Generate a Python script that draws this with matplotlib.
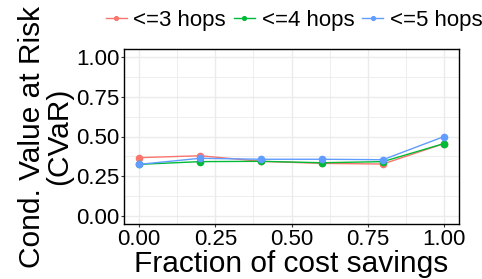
import matplotlib
matplotlib.use("Agg")
import matplotlib.pyplot as plt
from matplotlib.ticker import MultipleLocator

plt.rcParams['font.family'] = ['Liberation Sans', 'DejaVu Sans']

x = [0.0, 0.2, 0.4, 0.6, 0.8, 1.0]
hops3 = [0.367, 0.379, 0.344, 0.331, 0.327, 0.455]
hops4 = [0.325, 0.342, 0.344, 0.335, 0.342, 0.455]
hops5 = [0.325, 0.363, 0.357, 0.357, 0.354, 0.499]
labels = ['<=3 hops', '<=4 hops', '<=5 hops']
colors = ['#F8766D', '#00BA38', '#619CFF']
xticks = [0.0, 0.25, 0.5, 0.75, 1.0]
yticks = [0.0, 0.25, 0.5, 0.75, 1.0]

fig = plt.figure(figsize=(4.82, 2.79), dpi=100)
ax = fig.add_axes([124/482, 1-224/279, (459-124)/482, (224-49)/279])

for ys, lab, c in zip([hops3, hops4, hops5], labels, colors):
    ax.plot(x, ys, color=c, lw=1.0, marker='o', ms=4.5, label=lab, zorder=3)

ax.set_xlim(-0.05, 1.05)
ax.set_ylim(-0.05, 1.05)
ax.set_xticks(xticks)
ax.set_yticks(yticks)
ax.set_xticklabels(['%.2f' % v for v in xticks])
ax.set_yticklabels(['%.2f' % v for v in yticks])
ax.xaxis.set_minor_locator(MultipleLocator(0.125))
ax.yaxis.set_minor_locator(MultipleLocator(0.125))
ax.grid(True, which='major', color='#EBEBEB', lw=1.0, zorder=0)
ax.grid(True, which='minor', color='#EBEBEB', lw=0.6, zorder=0)
ax.set_axisbelow(True)
ax.tick_params(which='major', length=2.5, width=0.8, color='#333333', labelsize=16, pad=1, labelcolor='black')
ax.tick_params(which='minor', length=0)
for s in ax.spines.values():
    s.set_color('black')
    s.set_linewidth(1.0)

ax.set_xlabel('Fraction of cost savings', fontsize=21.5, labelpad=0)
ax.set_ylabel('Cond. Value at Risk\n(CVaR)', fontsize=21.5, labelpad=2, linespacing=0.95)

handles, labs = ax.get_legend_handles_labels()
fig.legend(handles, labs, loc='center', bbox_to_anchor=(0.61, 0.926), ncol=3, frameon=False,
           fontsize=16, handlelength=0.95, handletextpad=0.3, columnspacing=0.35, markerscale=0.6)

fig.savefig('out.png', dpi=100)
